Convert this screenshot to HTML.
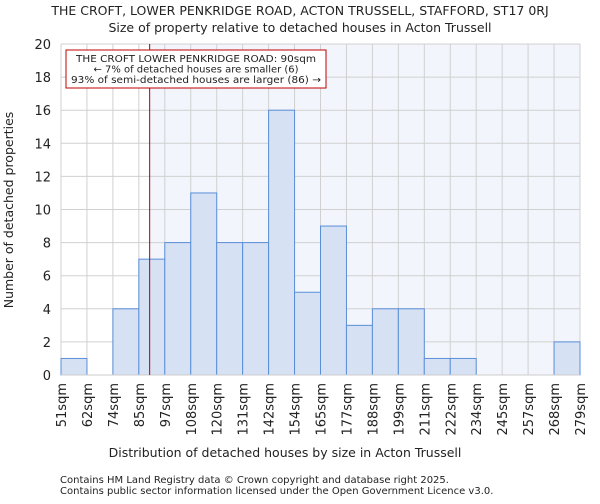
<!DOCTYPE html>
<html><head><meta charset="utf-8"><style>
body{margin:0;background:#fff;font-family:"DejaVu Sans","Liberation Sans",sans-serif;}
text{font-family:"DejaVu Sans","Liberation Sans",sans-serif;fill:#222;}
</style></head><body>
<svg id="chart" width="600" height="500">
<text x="300" y="15" font-size="12.5" text-anchor="middle">THE CROFT, LOWER PENKRIDGE ROAD, ACTON TRUSSELL, STAFFORD, ST17 0RJ</text>
<text x="300" y="32" font-size="12.5" text-anchor="middle">Size of property relative to detached houses in Acton Trussell</text>
<g id="plot"></g>
<text x="285" y="457" font-size="12.5" text-anchor="middle">Distribution of detached houses by size in Acton Trussell</text>
<text transform="translate(13,210) rotate(-90)" font-size="12.5" text-anchor="middle">Number of detached properties</text>
<text x="60" y="483" font-size="10" fill="#444">Contains HM Land Registry data © Crown copyright and database right 2025.</text>
<text x="60" y="494" font-size="10" fill="#444">Contains public sector information licensed under the Open Government Licence v3.0.</text>
</svg>
<script>
const binLabels=["51sqm","62sqm","74sqm","85sqm","97sqm","108sqm","120sqm","131sqm","142sqm","154sqm","165sqm","177sqm","188sqm","199sqm","211sqm","222sqm","234sqm","245sqm","257sqm","268sqm","279sqm"];
const counts=[1,0,4,7,8,11,8,8,16,5,9,3,4,4,1,1,0,0,0,2];
const yTicks=[0,2,4,6,8,10,12,14,16,18,20];
const propertyIndex=3+5/12;
const NS="http://www.w3.org/2000/svg";
const g=document.getElementById('plot');
const X0=61,X1=580,Y0=375,Y1=44;
const bw=(X1-X0)/counts.length;
const xs=i=>X0+i*bw;
const ys=v=>Y0-(v/20)*(Y0-Y1);
function mk(t,a){const e=document.createElementNS(NS,t);for(const k in a)e.setAttribute(k,a[k]);g.appendChild(e);return e;}
let e;
e=mk('rect',{x:X0,y:Y1,width:X1-X0,height:Y0-Y1,fill:'#fff'});


const px=xs(propertyIndex);
e=mk('rect',{x:px,y:Y1,width:X1-px,height:Y0-Y1,fill:'#f2f5fc'});


yTicks.forEach(t=>{
 e=mk('line',{x1:X0,x2:X1,y1:ys(t),y2:ys(t),stroke:'#d0d0d0','stroke-width':1});
 
 
 e=mk('text',{x:X0-10,y:ys(t)+5,'font-size':13,'text-anchor':'end'});e.textContent=t;
 
 
});
binLabels.forEach((l,i)=>{
 e=mk('line',{x1:xs(i),x2:xs(i),y1:Y1,y2:Y0,stroke:'#d0d0d0','stroke-width':1});
 
 
 e=mk('text',{transform:`translate(${xs(i)+5},${Y0+8}) rotate(-90)`,'font-size':13,'text-anchor':'end'});e.textContent=l;
 
 
});
counts.forEach((c,i)=>{
 if(c<=0)return;
 e=mk('rect',{x:xs(i),y:ys(c),width:bw,height:Y0-ys(c),fill:'#d6e1f4',stroke:'#5a8fd8','stroke-width':1});
 
 
});
e=mk('line',{x1:X0,x2:X1,y1:Y0,y2:Y0,stroke:'#ccc'});


e=mk('line',{x1:px,x2:px,y1:Y1,y2:Y0,stroke:'#b00000','stroke-width':1});


e=mk('rect',{x:66,y:50,width:260,height:38,fill:'#fff',stroke:'#c00000','stroke-width':1});


const ann=["THE CROFT LOWER PENKRIDGE ROAD: 90sqm","← 7% of detached houses are smaller (6)","93% of semi-detached houses are larger (86) →"];
ann.forEach((t,i)=>{
 e=mk('text',{x:196,y:62+i*10.5,'font-size':10,'text-anchor':'middle','textLength':(i==2?250:(i==0?240:205)),'lengthAdjust':'spacingAndGlyphs'});e.textContent=t;
 
 
});
</script>
</body></html>
